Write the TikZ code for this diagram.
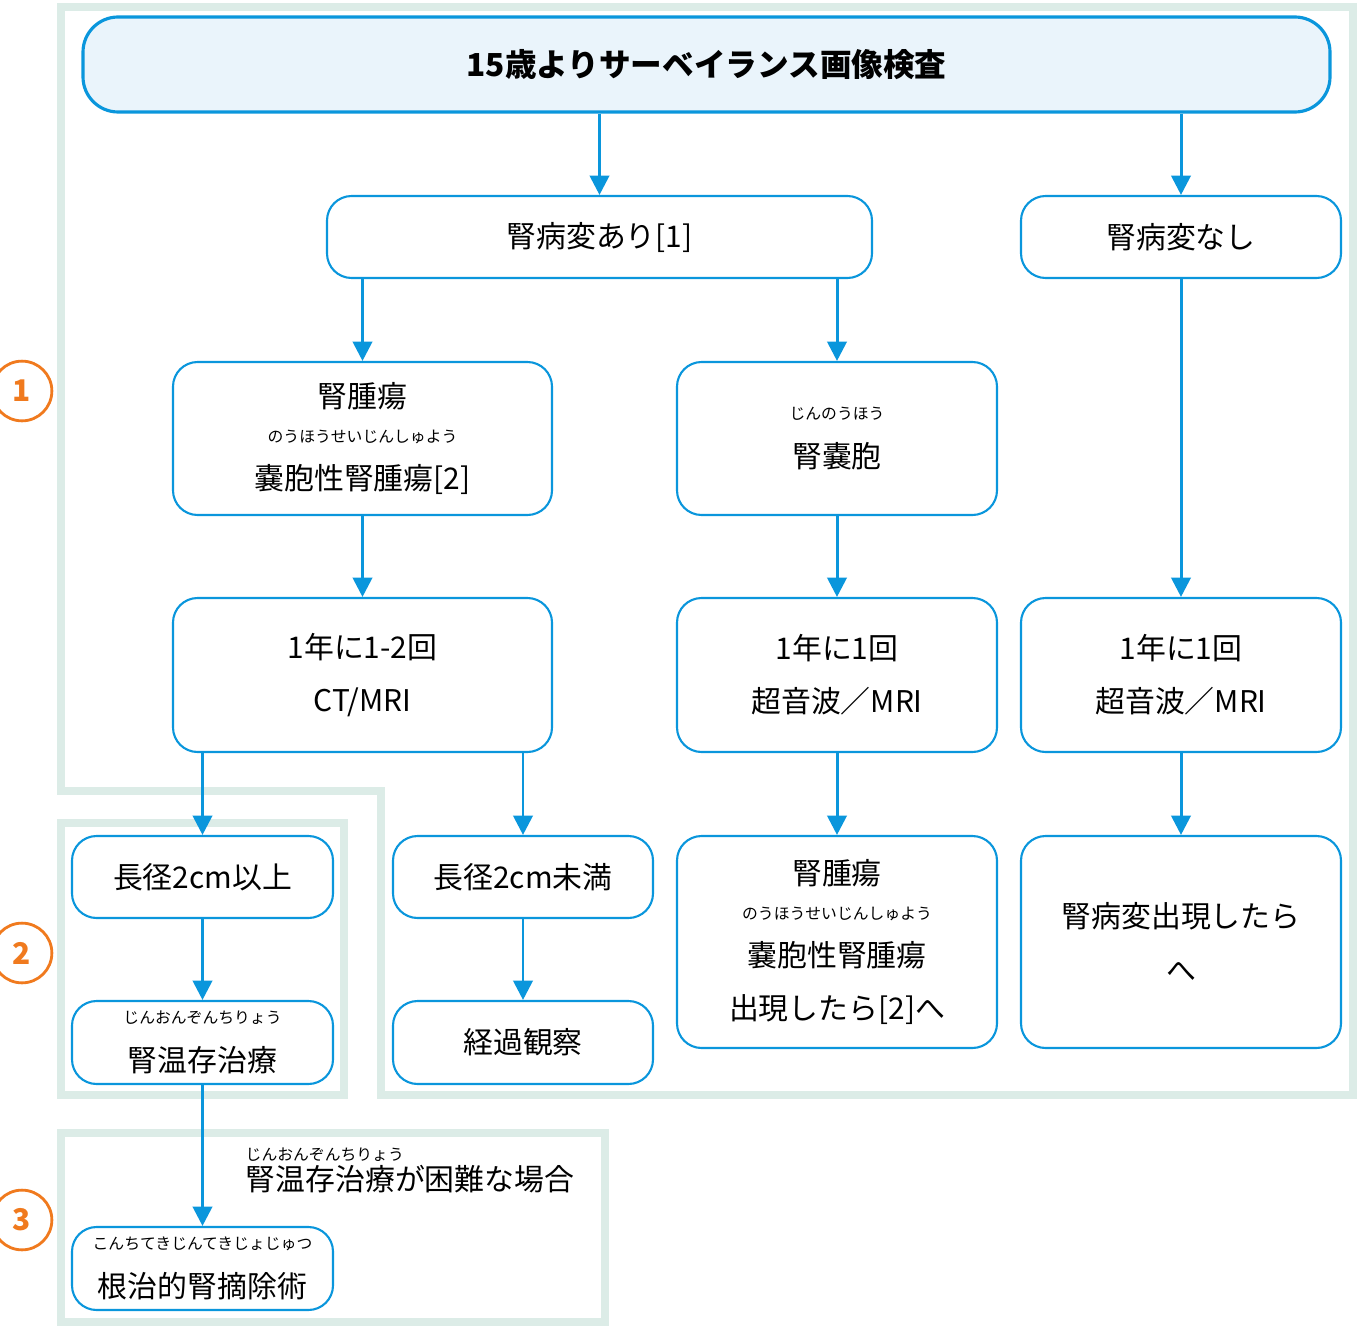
\documentclass[tikz,border=0pt]{standalone}
\usepackage{fontspec}
\setmainfont{Noto Sans CJK JP}
\usetikzlibrary{arrows.meta}
\definecolor{flowblue}{HTML}{0A96DC}
\definecolor{paleblue}{HTML}{EAF4FB}
\definecolor{bandgreen}{HTML}{DCECE7}
\definecolor{markorange}{HTML}{F07A1E}
\newcommand{\furi}[2]{{\fontsize{9}{9}\selectfont #2}\\[-3pt]#1}
\tikzset{
  box/.style={draw=flowblue, line width=1.2pt, rounded corners=14pt, fill=white,
    align=center, font=\fontsize{17}{30}\selectfont, inner sep=0pt},
  flow/.style={draw=flowblue, line width=1.7pt, -{Triangle[length=11pt,width=11pt]}},
  band/.style={draw=bandgreen, line width=4.5pt},
  mark/.style={}
}
\begin{document}
\begin{tikzpicture}[x=0.02cm, y=-0.02cm]
\useasboundingbox (0,0) rectangle (1360,1328);

%regions
\draw[band] (61,7) -- (1353,7) -- (1353,1095) -- (381,1095) -- (381,791) -- (61,791) -- cycle;
\draw[band] (61,823) rectangle (344,1095);
\draw[band] (61,1133) rectangle (605,1322);

%region numbers
\foreach \n/\y in {1/391, 2/953, 3/1220}
  \node[circle, draw=markorange, line width=1.6pt, text=markorange, minimum size=34pt, inner sep=0pt,
    font=\fontsize{17}{17}\selectfont\bfseries] (num\n) at (22,\y) {\n};

%boxes
\node[box, draw=flowblue, line width=1.8pt, fill=paleblue, rounded corners=20pt,
  minimum width=1247*0.02cm, minimum height=95*0.02cm, font=\fontsize{18}{20}\selectfont\bfseries]
  (top) at (706.5,64.5) {15歳よりサーベイランス画像検査};
\node[box, minimum width=545*0.02cm, minimum height=82*0.02cm] (withlesion) at (599.5,237) {腎病変あり[1]};
\node[box, minimum width=320*0.02cm, minimum height=82*0.02cm] (nolesion) at (1181,237) {腎病変なし};
\node[box, minimum width=379*0.02cm, minimum height=153*0.02cm] (tumor) at (362.5,438.5)
  {腎腫瘍\\[-10pt]\furi{嚢胞性腎腫瘍[2]}{のうほうせいじんしゅよう}};
\node[box, minimum width=320*0.02cm, minimum height=153*0.02cm] (cyst) at (837,438.5)
  {\furi{腎嚢胞}{じんのうほう}};
\node[box, minimum width=379*0.02cm, minimum height=154*0.02cm] (ctmri) at (362.5,675)
  {1年に1-2回\\CT/MRI};
\node[box, minimum width=320*0.02cm, minimum height=154*0.02cm] (usmri) at (837,675)
  {1年に1回\\超音波／MRI};
\node[box, minimum width=320*0.02cm, minimum height=154*0.02cm] (usmrib) at (1181,675)
  {1年に1回\\超音波／MRI};
\node[box, minimum width=261*0.02cm, minimum height=82*0.02cm] (large) at (202.5,877) {長径2cm以上};
\node[box, minimum width=260*0.02cm, minimum height=82*0.02cm] (small) at (523,877) {長径2cm未満};
\node[box, minimum width=320*0.02cm, minimum height=212*0.02cm] (appear) at (837,942)
  {腎腫瘍\\[-10pt]\furi{嚢胞性腎腫瘍}{のうほうせいじんしゅよう}\\出現したら[2]へ};
\node[box, minimum width=320*0.02cm, minimum height=212*0.02cm] (newlesion) at (1181,942)
  {腎病変出現したら\\[1]へ};
\node[box, minimum width=261*0.02cm, minimum height=83*0.02cm] (spare) at (202.5,1042.5)
  {\furi{腎温存治療}{じんおんぞんちりょう}};
\node[box, minimum width=260*0.02cm, minimum height=83*0.02cm] (observe) at (523,1042.5) {経過観察};
\node[box, minimum width=261*0.02cm, minimum height=83*0.02cm] (radical) at (202.5,1268.5)
  {\furi{根治的腎摘除術}{こんちてきじんてきじょじゅつ}};

%label
\node[align=left, font=\fontsize{17}{20}\selectfont, inner sep=0pt] (hard) at (410,1170)
  {\furi{腎温存治療が困難な場合}{じんおんぞんちりょう}};

%arrows
\draw[flow] (top.south -| withlesion) -- (withlesion);
\draw[flow] (top.south -| nolesion) -- (nolesion);
\draw[flow] (withlesion.south -| tumor) -- (tumor);
\draw[flow] (withlesion.south -| cyst) -- (cyst);
\draw[flow] (tumor) -- (ctmri);
\draw[flow] (cyst) -- (usmri);
\draw[flow] (nolesion) -- (usmrib);
\draw[flow] (ctmri.south -| large) -- (large);
\draw[flow] (ctmri.south -| small) -- (small);
\draw[flow] (usmri) -- (appear);
\draw[flow] (usmrib) -- (newlesion);
\draw[flow] (large) -- (spare);
\draw[flow] (small) -- (observe);
\draw[flow] (spare) -- (radical);
\end{tikzpicture}
\end{document}
